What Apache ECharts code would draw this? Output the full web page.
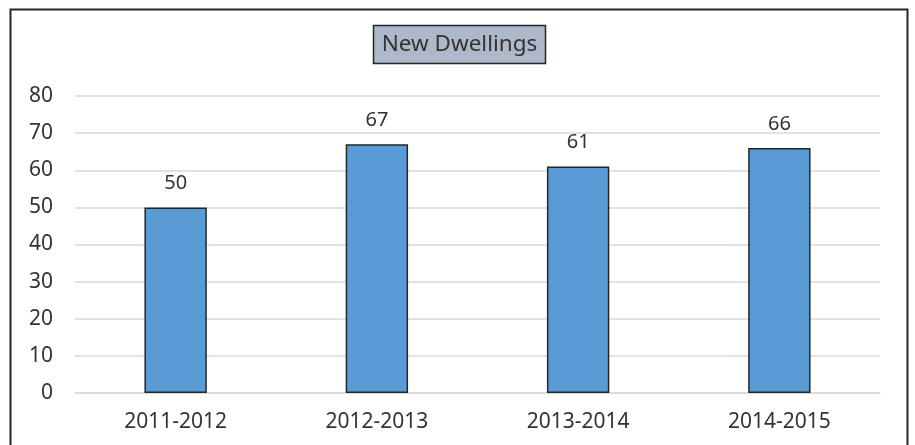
<!DOCTYPE html>
<html><head><meta charset="utf-8">
<script src="https://cdn.jsdelivr.net/npm/echarts@6/dist/echarts.min.js"></script>
<style>html,body{margin:0;padding:0;background:#fff}#c{width:915px;height:445px}</style>
</head><body><div id="c"></div>
<script>
const categories = ['2011-2012','2012-2013','2013-2014','2014-2015'];
const values = [50, 67, 61, 66];
const yTicks = {min: 0, max: 80, interval: 10};
const titleText = 'New Dwellings';

const chart = echarts.init(document.getElementById('c'), null, {renderer:'canvas'});
const font = 'Noto Sans';
chart.setOption({
  animation: false,
  backgroundColor: '#fff',
  graphic: [
    {type:'rect', shape:{x:10.5, y:9.5, width:897, height:460}, style:{fill:'none', stroke:'#262626', lineWidth:2}, z:0},
    {type:'rect', shape:{x:373.5, y:25.5, width:172, height:38}, style:{fill:'#adb9ca', stroke:'#262626', lineWidth:1.5}, z:10},
    {type:'text', x:459.5, y:44.5, style:{text:titleText, fill:'#333333', font:'22.5px "Noto Sans"', align:'center', verticalAlign:'middle'}, z:11}
  ],
  grid: {left:75, right:35, top:96, bottom:52, containLabel:false},
  xAxis: {
    type:'category', data:categories,
    axisLine:{show:true, lineStyle:{color:'#d9d9d9', width:1.5}},
    axisTick:{show:false},
    axisLabel:{color:'#333333', fontSize:21, fontFamily:font, margin:19}
  },
  yAxis: {
    type:'value', min:yTicks.min, max:yTicks.max, interval:yTicks.interval,
    axisLine:{show:false}, axisTick:{show:false},
    splitLine:{lineStyle:{color:'#d9d9d9', width:1.5}},
    axisLabel:{color:'#333333', fontSize:21, fontFamily:font, margin:22}
  },
  series: [{
    type:'bar', data:values, barWidth:'31%',
    itemStyle:{color:'#5b9bd5', borderColor:'#262626', borderWidth:1.5},
    label:{show:true, position:'top', distance:14, color:'#333333', fontSize:20, fontFamily:font}
  }]
});
</script></body></html>
